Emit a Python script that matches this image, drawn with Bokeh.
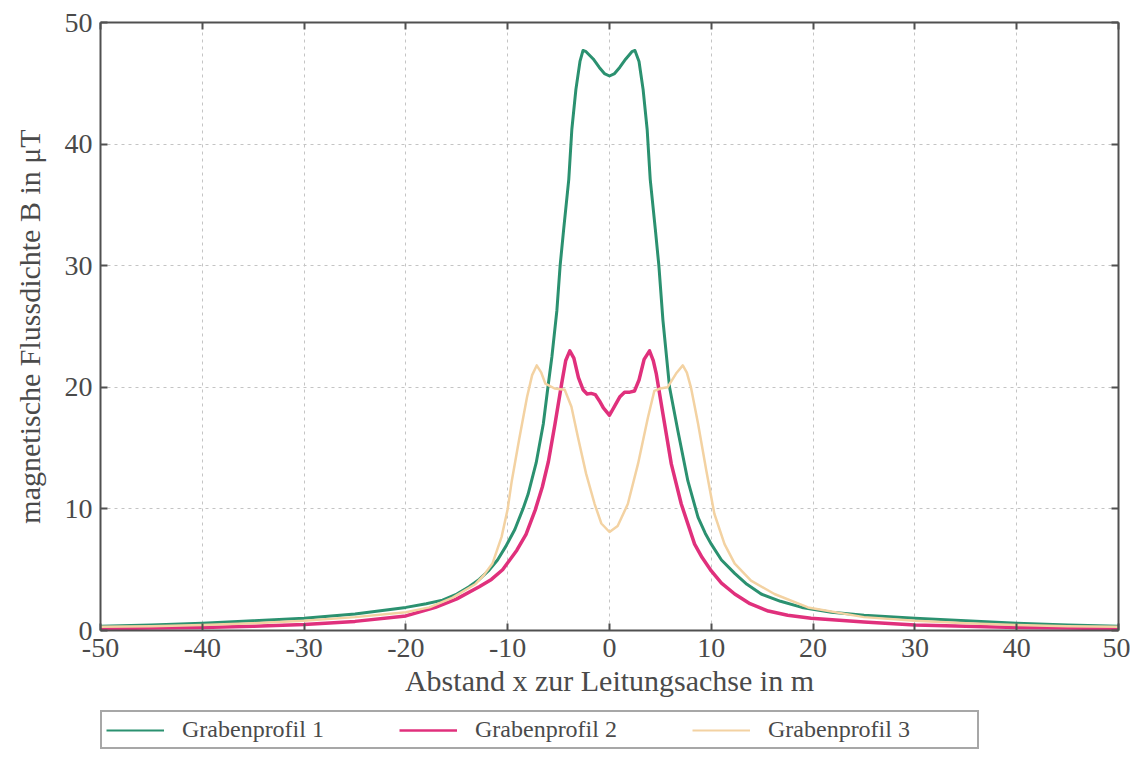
from bokeh.plotting import figure
from bokeh.layouts import column
from bokeh.models import (LinearAxis, SingleIntervalTicker, Legend, LegendItem,
                          ColumnDataSource)
from bokeh.embed import file_html
from bokeh.resources import INLINE

# ---------------- data ----------------
x_g1 = [-50, -45, -40, -35, -30, -25, -20, -18, -16.4, -15, -13.8, -12.8, -11.9,
        -11, -10.2, -9.3, -8.5, -8.0, -7.2, -6.5, -6.05, -5.66, -5.17, -4.85, -4.5,
        -4.0, -3.7, -3.3, -2.9, -2.6, -2.3, -1.6, -1.0, -0.5, 0, 0.5, 1.0, 1.6, 2.2,
        2.5, 2.9, 3.3, 3.7, 4.0, 4.5, 4.85, 5.25, 5.9, 6.72, 7.7, 8.7, 9.4, 10.0,
        11.0, 12.3, 13.5, 14.9, 16.8, 18.9, 21.8, 25, 30, 35, 40, 45, 50]
y_g1 = [0.35, 0.45, 0.6, 0.8, 1.0, 1.35, 1.9, 2.2, 2.5, 3.0, 3.6, 4.2, 4.9,
        5.8, 6.9, 8.3, 10.0, 11.2, 13.8, 17.0, 20.0, 22.5, 26.3, 30.0, 33.0,
        37.1, 41.2, 44.5, 46.8, 47.7, 47.6, 47.0, 46.3, 45.8, 45.6, 45.8, 46.3,
        47.0, 47.6, 47.7, 46.8, 44.5, 41.2, 37.1, 33.0, 30.0, 25.5, 20.0, 16.4,
        12.3, 9.3, 8.0, 7.1, 5.8, 4.7, 3.8, 3.0, 2.4, 1.9, 1.5, 1.25, 1.0, 0.8,
        0.6, 0.45, 0.35]

x_g2 = [-50, -45, -40, -35, -30, -25, -20, -17.1, -15, -12.8, -11.6, -10.5, -9.1,
        -8.2, -7.3, -6.6, -6.0, -5.35, -4.7, -4.3, -3.9, -3.5, -3.05, -2.6, -2.2,
        -1.8, -1.4, -1.0, -0.6, 0, 0.6, 1.0, 1.48, 2.0, 2.46, 2.9, 3.4, 3.93, 4.3,
        4.6, 5.25, 6.07, 7.05, 8.36, 9.1, 10.0, 11.0, 12.3, 13.8, 15.6, 17.5, 19.8,
        25, 30, 35, 40, 45, 50]
y_g2 = [0.15, 0.2, 0.25, 0.35, 0.5, 0.75, 1.2, 1.9, 2.6, 3.6, 4.2, 5.0, 6.6,
        7.9, 9.9, 11.8, 13.9, 17.0, 20.3, 22.2, 23.0, 22.4, 20.8, 19.8, 19.45,
        19.5, 19.4, 18.9, 18.3, 17.7, 18.6, 19.2, 19.6, 19.6, 19.7, 20.6, 22.3,
        23.0, 22.2, 21.1, 17.8, 13.7, 10.4, 7.1, 6.0, 4.9, 3.9, 3.0, 2.2, 1.6,
        1.25, 1.0, 0.7, 0.45, 0.35, 0.25, 0.2, 0.15]

x_g3 = [-50, -45, -40, -35, -30, -25, -20, -17.7, -15.4, -13.2, -12.3, -11.5,
        -10.6, -10.0, -9.6, -8.9, -8.1, -7.6, -7.15, -6.7, -6.3, -5.4, -4.4, -3.74,
        -3.1, -2.3, -1.46, -0.8, 0, 0.8, 1.8, 2.8, 3.77, 4.4, 5.0, 5.7, 6.6, 7.2,
        7.6, 8.0, 8.7, 9.5, 10.3, 11.3, 12.3, 13.9, 16.2, 19.5, 25, 30, 35, 40,
        45, 50]
y_g3 = [0.3, 0.35, 0.45, 0.6, 0.8, 1.1, 1.5, 1.9, 2.7, 3.8, 4.6, 5.5, 7.7,
        10.0, 12.3, 15.6, 19.2, 21.0, 21.8, 21.2, 20.3, 19.9, 19.8, 18.4, 15.9,
        12.9, 10.4, 8.8, 8.1, 8.6, 10.4, 13.7, 17.5, 19.7, 19.9, 20.0, 21.2,
        21.8, 21.2, 20.0, 17.0, 13.2, 9.6, 7.1, 5.5, 4.1, 3.0, 1.9, 1.1, 0.8,
        0.6, 0.45, 0.35, 0.3]

series_names = ["Grabenprofil 1", "Grabenprofil 2", "Grabenprofil 3"]
tick_values = [-50, -40, -30, -20, -10, 0, 10, 20, 30, 40, 50]

# ---------------- styling ----------------
FONT = "Liberation Serif"
AX = "#505050"
TXT = "#4a4a4a"
colors = ["#2b9170", "#e0307c", "#f3d2a2"]
widths = [3, 3.5, 2.5]
legend_widths = [2, 2.5, 2]
xs_all = [x_g1, x_g2, x_g3]
ys_all = [y_g1, y_g2, y_g3]

p = figure(width=1130, height=710, x_range=(-50, 50), y_range=(0, 50),
           output_backend="svg", toolbar_location=None,
           min_border_left=100, min_border_right=12, min_border_top=22,
           min_border_bottom=80)
p.background_fill_color = "white"
p.border_fill_color = "white"
p.outline_line_color = None

def style_axis(ax, show_labels=True):
    ax.ticker = SingleIntervalTicker(interval=10, num_minor_ticks=0)
    ax.axis_line_color = AX
    ax.axis_line_width = 2
    ax.major_tick_line_color = AX
    ax.major_tick_line_width = 2
    ax.major_tick_in = 7
    ax.major_tick_out = 0
    ax.minor_tick_line_color = None
    if show_labels:
        ax.major_label_text_font = FONT
        ax.major_label_text_font_size = "28px"
        ax.major_label_text_color = TXT
        ax.major_label_overrides = {v: str(v) for v in tick_values}
    else:
        ax.major_label_overrides = {v: "" for v in tick_values}
        ax.major_label_text_font_size = "1px"
        ax.major_label_standoff = 0

style_axis(p.xaxis[0])
style_axis(p.yaxis[0])
p.xaxis.major_label_standoff = 8
p.yaxis.major_label_standoff = 8
p.xaxis.axis_label = "Abstand x zur Leitungsachse in m"
p.yaxis.axis_label = "magnetische Flussdichte B in μT"
for ax in (p.xaxis[0], p.yaxis[0]):
    ax.axis_label_text_font = FONT
    ax.axis_label_text_font_style = "normal"
    ax.axis_label_text_font_size = "30px"
    ax.axis_label_text_color = TXT
p.xaxis.axis_label_standoff = 4
p.yaxis.axis_label_standoff = 16

top_ax = LinearAxis()
style_axis(top_ax, show_labels=False)
p.add_layout(top_ax, "above")
right_ax = LinearAxis()
style_axis(right_ax, show_labels=False)
p.add_layout(right_ax, "right")

p.xgrid.ticker = SingleIntervalTicker(interval=10, num_minor_ticks=0)
p.ygrid.ticker = SingleIntervalTicker(interval=10, num_minor_ticks=0)
for g in (p.xgrid[0], p.ygrid[0]):
    g.grid_line_color = "#c4c4c4"
    g.grid_line_dash = "3 4"
    g.grid_line_width = 1

for xs, ys, c, w in zip(xs_all, ys_all, colors, widths):
    src = ColumnDataSource(dict(x=xs, y=ys))
    p.line("x", "y", source=src, line_color=c, line_width=w,
           line_join="round", line_cap="round")

# ---------------- legend strip below the axis ----------------
# same series drawn again in a strip whose y-range lies above the data,
# so only the legend entries of this strip are visible
p2 = figure(width=1130, height=41, x_range=(-50, 50), y_range=(100, 101),
            output_backend="svg", toolbar_location=None,
            x_axis_location=None, y_axis_location=None,
            min_border_left=100, min_border_right=12, min_border_top=0,
            min_border_bottom=0)
p2.outline_line_color = None
p2.grid.visible = False
p2.background_fill_color = "white"
p2.border_fill_color = "white"

legend_renderers = []
for xs, ys, c, w in zip(xs_all, ys_all, colors, legend_widths):
    r = p2.line(x=xs, y=ys, line_color=c, line_width=w)
    legend_renderers.append(r)

legend = Legend(items=[LegendItem(label=n, renderers=[r])
                       for n, r in zip(series_names, legend_renderers)],
                orientation="horizontal", location="top_left", margin=0,
                padding=4, spacing=12, glyph_width=58, glyph_height=20,
                label_standoff=18, label_width=205,
                label_text_font=FONT, label_text_font_size="24px",
                label_text_color=TXT, border_line_color=AX,
                border_line_width=2, background_fill_color="white")
p2.add_layout(legend, "center")

open("out.html", "w").write(file_html(column(p, p2, spacing=0), INLINE))
